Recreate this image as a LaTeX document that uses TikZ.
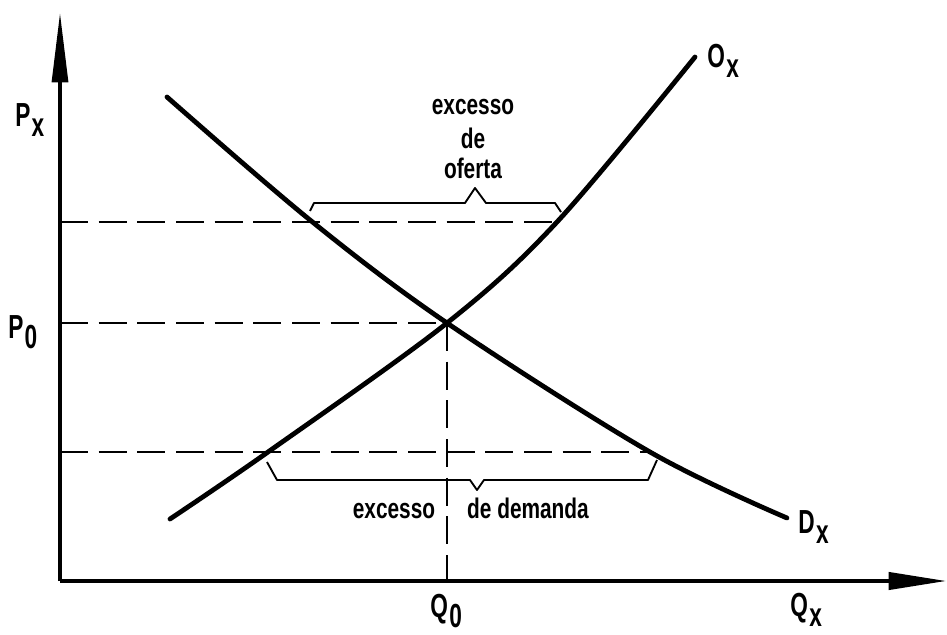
\documentclass[tikz,border=0pt]{standalone}
\usepackage{fontspec}
\setmainfont{Liberation Sans}
\usetikzlibrary{arrows.meta}
\newcommand\axlbl[2]{\scalebox{0.68}[1]{\fontsize{25}{25}\selectfont\bfseries #1\hspace{1.5pt}\raisebox{-7.5pt}{#2}}}
\newcommand\bracetxt[1]{\scalebox{0.92}[1.25]{\fontsize{17}{17}\selectfont\bfseries #1}}
\begin{document}
\begin{tikzpicture}[x=0.75pt,y=-0.75pt,
  axis/.style={line width=2.3pt},
  curve/.style={line width=3.6pt,line cap=round},
  guide/.style={line width=2.1pt,dash pattern=on 21pt off 8pt},
  bracepath/.style={line width=1.4pt,line join=round},
  lbl/.style={anchor=base west,inner sep=0pt},
  btxt/.style={anchor=base,inner sep=0pt}]
\useasboundingbox (0,0) rectangle (947,635);
% axes
\coordinate (O) at (60,581);
\coordinate (ytip) at (60,13);
\coordinate (xtip) at (946,581);
\draw[axis,-{Triangle[length=52pt,width=12pt]}] (O) -- (ytip);
\draw[axis,-{Triangle[length=43pt,width=13pt]}] (O) -- (xtip);
% key points
\coordinate (E) at (447,323);
\coordinate (Ehigh) at (557,222);
\coordinate (Elow) at (650,452);
\coordinate (Phigh) at (60,222);
\coordinate (Plow) at (60,452);
\coordinate (P0) at (60,323);
\coordinate (Q0) at (447,581);
% guide lines
\draw[guide] (Phigh) -- (Ehigh);
\draw[guide] (Plow) -- (Elow);
\draw[guide] (P0) -- (E);
\draw[guide] (E) -- (Q0);
% demand
\draw[curve] plot[smooth,tension=0.55] coordinates {(167,97) (310,220) (447,323) (650,452) (787,518)};
% supply
\draw[curve] plot[smooth,tension=0.55] coordinates {(170,519) (268,452) (447,323) (557,222) (695,57)};
% braces
\draw[bracepath] (310,211) -- (314,203) -- (465,203) -- (475,188) -- (486,203) -- (555,203) -- (561,212);
\draw[bracepath] (267,462) -- (277,480) -- (470,480) -- (477,490) -- (484,480) -- (648,480) -- (657,460);
% brace texts
\node[btxt] (t1) at (473,115) {\bracetxt{excesso}};
\node[btxt] (t2) at (473,148) {\bracetxt{de}};
\node[btxt] (t3) at (473,178) {\bracetxt{oferta}};
\node[btxt] (t4) at (394,518) {\bracetxt{excesso}};
\node[btxt] (t5) at (528,518) {\bracetxt{de demanda}};
% axis labels
\node[lbl] (px) at (15,127) {\axlbl{P}{x}};
\node[lbl] (p0) at (8,338) {\axlbl{P}{0}};
\node[lbl] (q0) at (430,617) {\axlbl{Q}{0}};
\node[lbl] (qx) at (790,616) {\axlbl{Q}{x}};
\node[lbl] (dx) at (798,533) {\axlbl{D}{x}};
\node[lbl] (ox) at (707,68) {\axlbl{O}{x}};
\end{tikzpicture}
\end{document}
